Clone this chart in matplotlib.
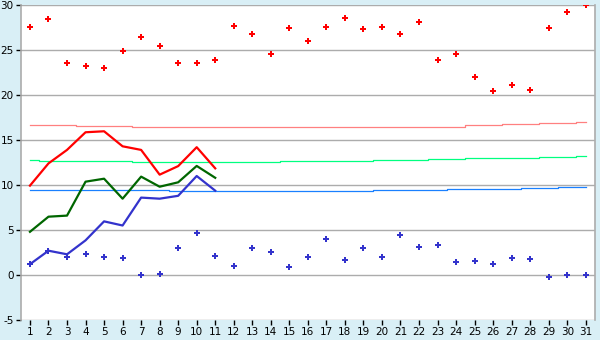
import matplotlib
matplotlib.use("Agg")
import matplotlib.pyplot as plt

plt.rcParams["axes.unicode_minus"] = False

# data
days = list(range(1, 32))

max_marks = [27.6, 28.4, 23.5, 23.2, 23.0, 24.85, 26.4, 25.4, 23.5, 23.5,
             23.85, 27.7, 26.75, 24.5, 27.4, 26.0, 27.6, 28.6, 27.3, 27.5,
             26.75, 28.1, 23.85, 24.5, 22.0, 20.4, 21.07, 20.6, 27.4, 29.2, 30.0]
min_marks = [1.2, 2.7, 1.96, 2.3, 1.96, 1.85, 0.0, 0.07, 2.96, 4.63,
             2.07, 0.96, 2.96, 2.52, 0.85, 1.96, 3.96, 1.63, 2.96, 1.96,
             4.4, 3.07, 3.3, 1.41, 1.52, 1.19, 1.85, 1.74, -0.26, 0.0, 0.0]

line_days = list(range(1, 12))
max_line = [9.93, 12.4, 13.9, 15.86, 15.97, 14.3, 13.9, 11.15, 12.1, 14.2, 11.85]
mean_line = [4.8, 6.48, 6.6, 10.37, 10.7, 8.48, 10.93, 9.81, 10.3, 12.12, 10.8]
min_line = [1.2, 2.7, 2.3, 3.85, 5.96, 5.5, 8.6, 8.48, 8.8, 11.0, 9.37]

norm_max = [16.63] * 3 + [16.52] * 3 + [16.41] * 14 + [16.5] * 4 + [16.63] * 2 + \
           [16.74] * 2 + [16.85] * 2 + [16.97]
norm_mean = [12.74] + [12.63] * 5 + [12.52] * 8 + [12.63] * 5 + [12.74] * 3 + \
            [12.85] * 2 + [12.96] * 4 + [13.08] * 2 + [13.19]
norm_min = [9.4] * 8 + [9.32] * 11 + [9.41] * 4 + [9.52] * 4 + [9.63] * 2 + [9.74] * 2

yticks = [-5, 0, 5, 10, 15, 20, 25, 30]

BG = "#d9eff6"

fig = plt.figure(figsize=(6, 3.4), dpi=100, facecolor=BG)
ax = fig.add_axes([0.0345, 0.0588, 0.9572, 0.9265])
ax.set_facecolor("white")

for y in yticks:
    ax.axhline(y, color="#acacac", lw=1.0, zorder=1)

ax.plot(days, norm_max, drawstyle="steps-mid", color="#ff8080", lw=0.9, zorder=2)
ax.plot(days, norm_mean, drawstyle="steps-mid", color="#00ff80", lw=0.9, zorder=2)
ax.plot(days, norm_min, drawstyle="steps-mid", color="#1a80ff", lw=0.9, zorder=2)

ax.plot(line_days, max_line, color="#ff0000", lw=1.6, zorder=3)
ax.plot(line_days, mean_line, color="#006600", lw=1.6, zorder=3)
ax.plot(line_days, min_line, color="#3333cc", lw=1.6, zorder=3)

ax.plot(days, max_marks, ls="none", marker="P", ms=5, color="#ff0000",
        mec="#ff0000", mew=0, zorder=4)
ax.plot(days, min_marks, ls="none", marker="P", ms=5, color="#3333cc",
        mec="#3333cc", mew=0, zorder=4)

ax.set_xlim(0.5, 31.5)
ax.set_ylim(-5, 30)
ax.set_xticks(days)
ax.set_yticks(yticks)
ax.tick_params(axis="both", direction="out", length=3.5, width=1, color="black",
               labelsize=7.5, pad=1.5)

for side in ["top", "bottom"]:
    ax.spines[side].set_visible(False)
for side in ["left", "right"]:
    ax.spines[side].set_color("#acacac")
    ax.spines[side].set_linewidth(1.2)

fig.savefig("out.png", dpi=100, facecolor=BG)
